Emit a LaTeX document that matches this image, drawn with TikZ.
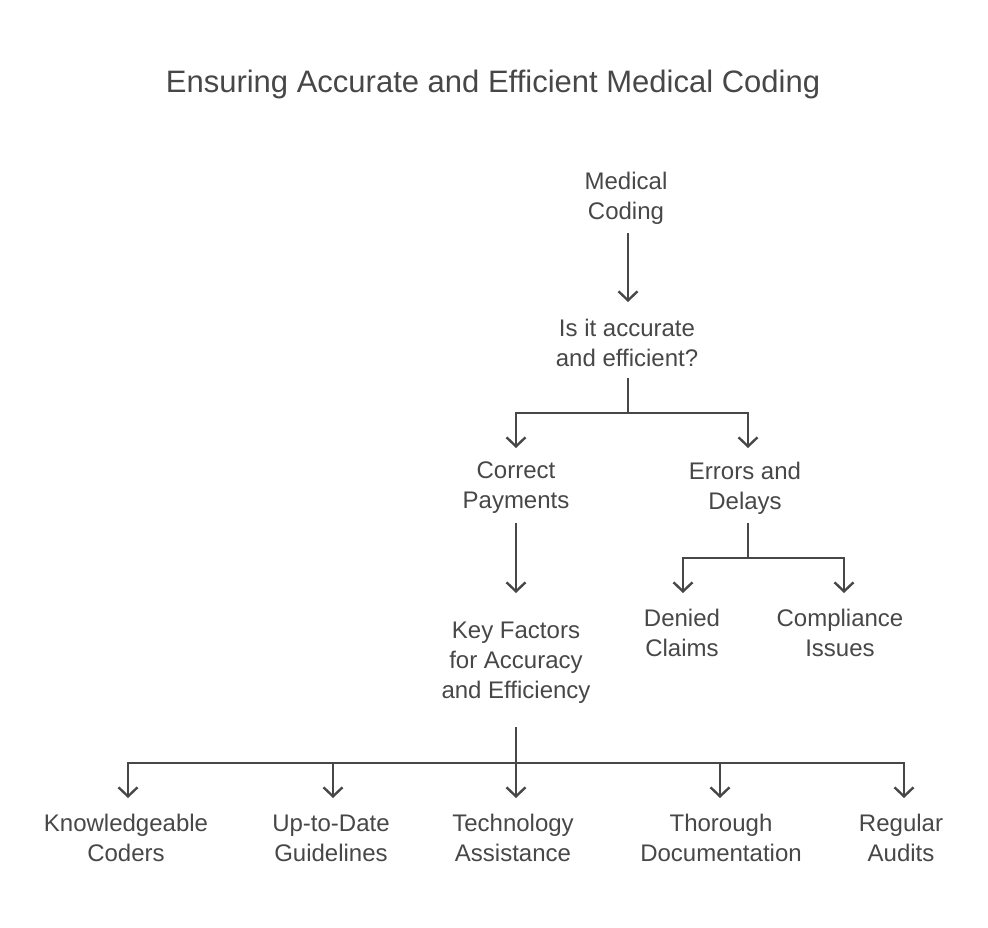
\documentclass[tikz,border=0pt]{standalone}
\usepackage{fontspec}
\setmainfont{Liberation Sans}
\usetikzlibrary{arrows.meta}
\definecolor{ink}{HTML}{474747}
\tikzset{
  lbl/.style={text=ink, align=center, font=\fontsize{24}{30}\selectfont, inner sep=0pt},
  conn/.style={draw=ink, line width=2.4pt},
  arr/.style={conn, -{Straight Barb[length=9pt,width=19pt,line width=2.4pt]}}
}
\begin{document}
\begin{tikzpicture}[x=1pt,y=-1pt]
\useasboundingbox (0,0) rectangle (988,928);
\node[text=ink, font=\fontsize{31}{36}\selectfont, inner sep=0pt] (title) at (493,84) {Ensuring Accurate and Efficient Medical Coding};
\node[lbl] (mc) at (626,198) {Medical\\Coding};
\node[lbl] (q) at (627,343) {Is it accurate\\and efficient?};
\node[lbl] (cp) at (516,488) {Correct\\Payments};
\node[lbl] (ed) at (745,488) {Errors and\\Delays};
\node[lbl] (kf) at (516,663) {Key Factors\\for Accuracy\\and Efficiency};
\node[lbl] (dc) at (682,633) {Denied\\Claims};
\node[lbl] (ci) at (840,633) {Compliance\\Issues};
\node[lbl] (kc) at (126,838) {Knowledgeable\\Coders};
\node[lbl] (ug) at (331,838) {Up-to-Date\\Guidelines};
\node[lbl] (ta) at (513,838) {Technology\\Assistance};
\node[lbl] (td) at (721,838) {Thorough\\Documentation};
\node[lbl] (ra) at (901,838) {Regular\\Audits};

\coordinate (mcB) at (628,233);
\coordinate (qT) at (628,302);
\draw[arr] (mcB) -- (qT);

\coordinate (qB) at (628,378);
\coordinate (j1) at (628,413);
\coordinate (cpT) at (516,448);
\coordinate (edT) at (748,448);
\draw[conn] (qB) -- (j1);
\draw[arr] (j1) -| (cpT);
\draw[arr] (j1) -| (edT);

\coordinate (cpB) at (516,523);
\coordinate (kfT) at (516,593);
\draw[arr] (cpB) -- (kfT);

\coordinate (edB) at (748,523);
\coordinate (j2) at (748,558);
\coordinate (dcT) at (683,593);
\coordinate (ciT) at (844,593);
\draw[conn] (edB) -- (j2);
\draw[arr] (j2) -| (dcT);
\draw[arr] (j2) -| (ciT);

\coordinate (kfB) at (516,727);
\coordinate (j3) at (516,763);
\coordinate (kcT) at (128,798);
\coordinate (ugT) at (333,798);
\coordinate (taT) at (516,798);
\coordinate (tdT) at (720,798);
\coordinate (raT) at (904,798);
\draw[conn] (kfB) -- (j3);
\draw[arr] (j3) -| (kcT);
\draw[arr] (j3) -| (ugT);
\draw[arr] (j3) -- (taT);
\draw[arr] (j3) -| (tdT);
\draw[arr] (j3) -| (raT);
\end{tikzpicture}
\end{document}
